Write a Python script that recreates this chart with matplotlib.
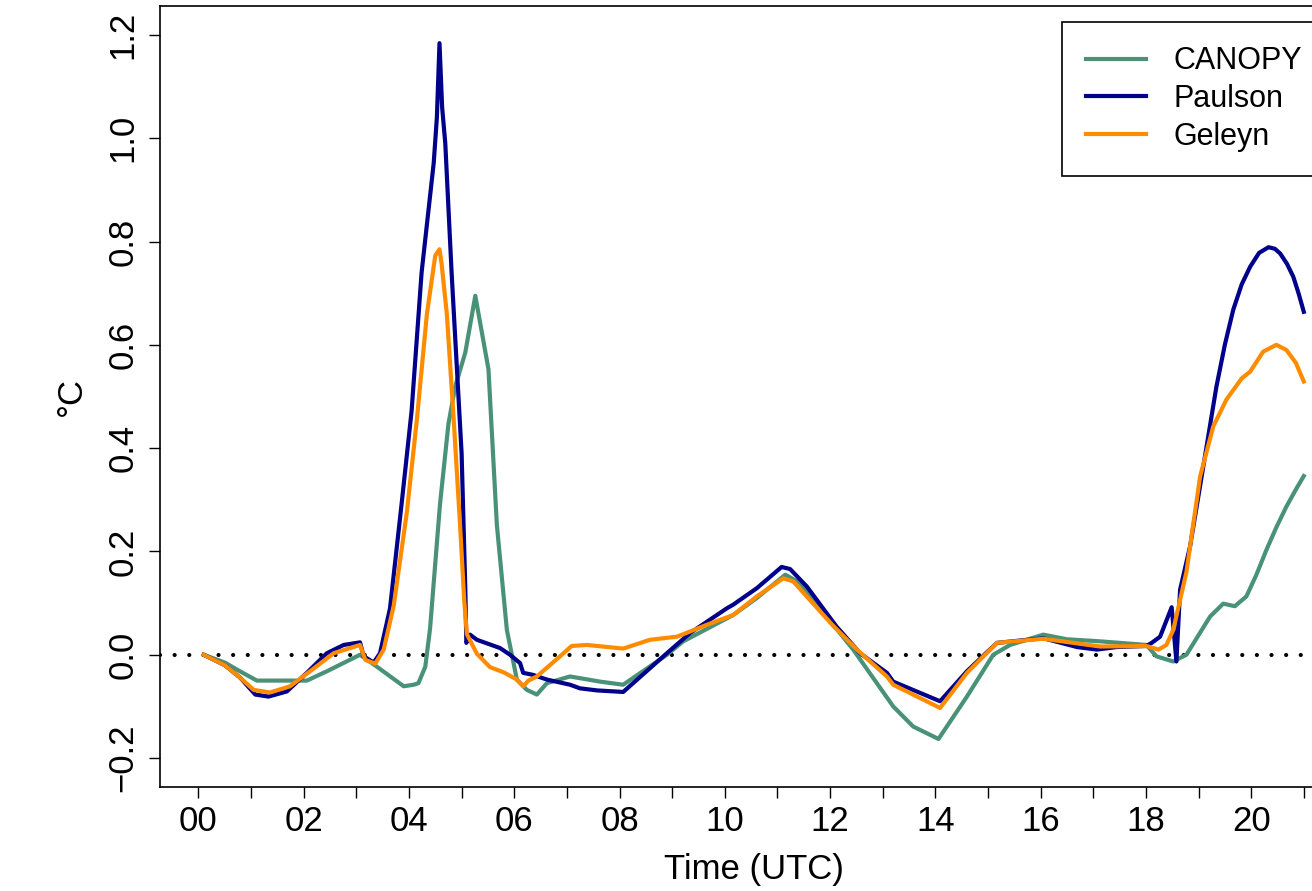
"""
Screen-temperature difference vs. reference run, three surface-flux schemes.
"""
import matplotlib
matplotlib.use('Agg')
import matplotlib.pyplot as plt

# --- data (hours UTC, deg C) ---
canopy_t = [0.10, 0.50, 0.79, 1.11, 2.06, 2.44, 3.07, 3.39, 3.90, 4.09, 4.18, 4.31, 4.40,
            4.59, 4.75, 4.88, 5.07, 5.26, 5.51, 5.67, 5.86, 6.05, 6.24, 6.43, 6.62, 7.06,
            7.63, 8.07, 8.90, 9.21, 10.16, 10.61, 11.15, 11.43, 12.06, 12.44, 13.20, 13.58,
            14.06, 14.60, 15.10, 15.42, 16.05, 16.50, 17.13, 18.01, 18.20, 18.52, 18.77,
            19.22, 19.47, 19.69, 19.91, 20.10, 20.29, 20.48, 20.67, 20.85, 21.00]
canopy_v = [0.000, -0.015, -0.032, -0.050, -0.050, -0.032, 0.000, -0.023, -0.061, -0.058,
            -0.055, -0.023, 0.050, 0.292, 0.447, 0.520, 0.585, 0.695, 0.553, 0.251, 0.048,
            -0.048, -0.068, -0.077, -0.055, -0.042, -0.052, -0.058, 0.000, 0.026, 0.077,
            0.110, 0.155, 0.139, 0.058, 0.010, -0.100, -0.139, -0.163, -0.081, 0.000, 0.019,
            0.039, 0.030, 0.026, 0.019, -0.003, -0.013, 0.000, 0.074, 0.099, 0.094, 0.113,
            0.155, 0.203, 0.247, 0.287, 0.320, 0.346]

paulson_t = [0.10, 0.50, 0.80, 1.08, 1.33, 1.68, 2.06, 2.44, 2.76, 3.07, 3.14, 3.33, 3.45,
             3.64, 3.86, 4.05, 4.24, 4.47, 4.53, 4.58, 4.63, 4.69, 4.81, 5.00, 5.07, 5.09,
             5.16, 5.29, 5.73, 5.92, 6.11, 6.17, 6.36, 6.62, 7.06, 7.25, 7.57, 8.07, 8.90,
             9.34, 10.04, 10.16, 10.61, 11.08, 11.24, 11.56, 12.12, 12.57, 13.08, 13.20,
             14.09, 14.60, 15.17, 16.05, 16.69, 17.07, 17.45, 18.01, 18.11, 18.27, 18.49,
             18.58, 18.65, 18.84, 19.09, 19.34, 19.50, 19.66, 19.82, 19.98, 20.15, 20.33,
             20.45, 20.55, 20.68, 20.80, 20.90, 21.00]
paulson_v = [0.000, -0.020, -0.045, -0.077, -0.081, -0.071, -0.035, 0.003, 0.019, 0.024,
             -0.003, -0.015, 0.003, 0.090, 0.292, 0.472, 0.740, 0.952, 1.040, 1.184, 1.060,
             0.990, 0.740, 0.390, 0.130, 0.023, 0.039, 0.029, 0.013, 0.000, -0.016, -0.035,
             -0.039, -0.048, -0.058, -0.065, -0.069, -0.072, 0.003, 0.042, 0.090, 0.097,
             0.129, 0.170, 0.166, 0.132, 0.055, 0.003, -0.035, -0.052, -0.090, -0.032,
             0.023, 0.032, 0.015, 0.010, 0.015, 0.017, 0.023, 0.035, 0.092, -0.013, 0.126,
             0.210, 0.364, 0.519, 0.600, 0.668, 0.717, 0.751, 0.778, 0.789, 0.786, 0.777,
             0.757, 0.732, 0.700, 0.664]

geleyn_t = [0.10, 0.50, 0.80, 1.05, 1.36, 1.74, 2.12, 2.57, 3.07, 3.17, 3.36, 3.52, 3.71,
            3.96, 4.15, 4.34, 4.50, 4.58, 4.62, 4.72, 4.85, 4.97, 5.05, 5.10, 5.29, 5.54,
            5.80, 6.05, 6.17, 6.27, 6.43, 6.87, 7.09, 7.38, 8.07, 8.58, 9.09, 9.66, 10.16,
            10.61, 11.11, 11.30, 12.06, 12.51, 13.08, 13.20, 14.09, 14.60, 15.17, 16.05,
            17.13, 18.01, 18.24, 18.39, 18.52, 18.77, 19.03, 19.28, 19.53, 19.82, 19.98,
            20.23, 20.48, 20.67, 20.85, 21.00]
geleyn_v = [0.000, -0.020, -0.045, -0.068, -0.073, -0.061, -0.032, 0.003, 0.019, -0.010,
            -0.017, 0.010, 0.095, 0.276, 0.455, 0.659, 0.773, 0.785, 0.757, 0.659, 0.455,
            0.252, 0.105, 0.040, 0.002, -0.024, -0.034, -0.048, -0.061, -0.050, -0.042,
            -0.003, 0.017, 0.019, 0.012, 0.029, 0.035, 0.058, 0.077, 0.113, 0.148, 0.142,
            0.056, 0.010, -0.042, -0.058, -0.103, -0.035, 0.023, 0.031, 0.016, 0.017, 0.010,
            0.019, 0.048, 0.160, 0.345, 0.442, 0.494, 0.535, 0.548, 0.587, 0.600, 0.590,
            0.565, 0.529]

series_names = ['CANOPY', 'Paulson', 'Geleyn']
series_colors = ['#4a9277', '#00008b', '#ff8c00']
hour_ticks = list(range(0, 22))
hour_labels = [f'{h:02d}' if h % 2 == 0 else '' for h in hour_ticks]
y_ticks = [-0.2, 0.0, 0.2, 0.4, 0.6, 0.8, 1.0, 1.2]

plt.rcParams['font.family'] = ['Liberation Sans', 'DejaVu Sans']

W, H = 1312, 891
fig = plt.figure(figsize=(W / 100, H / 100), dpi=100)
# plot box runs past the right edge of the picture (cropped original)
ax = fig.add_axes([160 / W, 104 / H, 1188 / W, 781 / H])

for t, v, name, col in zip([canopy_t, paulson_t, geleyn_t],
                           [canopy_v, paulson_v, geleyn_v],
                           series_names, series_colors):
    ax.plot(t, v, color=col, lw=3, label=name, solid_joinstyle='round')

ax.axhline(0, color='black', lw=3, linestyle=(0, (0.01, 3.5)),
           dash_capstyle='round', zorder=0.5)

ax.set_xlim(-0.73, 21.84)
ax.set_ylim(-0.256, 1.256)
ax.set_xticks(hour_ticks)
ax.set_xticklabels(hour_labels)
ax.set_yticks(y_ticks)
ax.set_yticklabels([f'{y:.1f}'.replace('-', '\u2212') for y in y_ticks],
                   rotation=90, va='center')
ax.tick_params(direction='out', length=8, width=1, labelsize=25, pad=5)
ax.tick_params(axis='y', pad=7)
for sp in ax.spines.values():
    sp.set_linewidth(1.2)

ax.set_xlabel('Time (UTC)', fontsize=25, labelpad=11)
ax.set_ylabel('°C', fontsize=25, labelpad=13)

leg = ax.legend(loc='upper left', bbox_to_anchor=(1062 / W, 1 - 22 / H),
                bbox_transform=fig.transFigure, borderaxespad=0, fontsize=22,
                frameon=True, fancybox=False, framealpha=1, edgecolor='black',
                handlelength=1.95, handletextpad=0.9, borderpad=0.8,
                labelspacing=0.25)
leg.get_frame().set_linewidth(1.2)

fig.savefig('out.png', dpi=100)
